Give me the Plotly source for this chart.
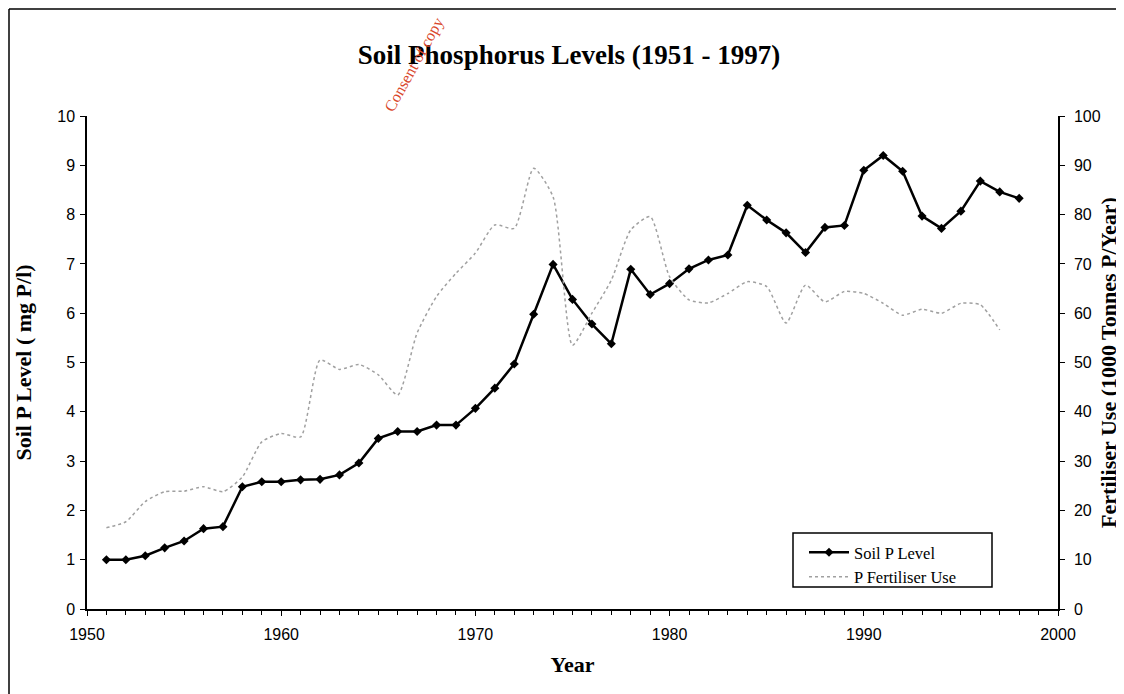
import plotly.graph_objects as go

years_soil = list(range(1951, 1999))
soil_p = [1.0, 1.0, 1.08, 1.24, 1.38, 1.63, 1.67, 2.48, 2.58, 2.58, 2.62, 2.63, 2.72, 2.96,
          3.46, 3.6, 3.6, 3.73, 3.73, 4.07, 4.48, 4.97, 5.98, 6.99, 6.28, 5.78, 5.38, 6.89,
          6.38, 6.6, 6.9, 7.08, 7.18, 8.19, 7.89, 7.63, 7.23, 7.74, 7.78, 8.9, 9.2, 8.88,
          7.97, 7.72, 8.07, 8.68, 8.46, 8.33]

years_fert = list(range(1951, 1998))
fert_use = [16.5, 17.7, 21.8, 23.8, 23.9, 24.8, 23.8, 26.8, 33.9, 35.6, 34.9, 50.5, 48.6, 49.6,
            47.5, 43.4, 56.0, 63.4, 68.1, 72.2, 77.9, 77.2, 89.4, 83.6, 53.5, 60.0, 66.7, 76.9,
            79.6, 67.4, 62.7, 62.1, 64.0, 66.4, 65.4, 58.0, 65.7, 62.3, 64.4, 64.0, 62.0, 59.6,
            60.8, 60.0, 62.0, 61.7, 56.6]

serif = "Liberation Serif"
sans = "Liberation Sans"

# figure is placed at (8, 8) by the page's body margin
W, H = 1116, 686
L, R, T, B = 79, 1050, 108, 601
PW, PH = R - L, B - T


def px(x):
    return (x - L) / PW


def py(y):
    return (B - y) / PH


fig = go.Figure()
fig.add_trace(go.Scatter(
    x=years_soil, y=soil_p, name="Soil P Level", mode="lines+markers",
    line=dict(color="black", width=2.5),
    marker=dict(symbol="diamond", size=7, color="black"),
    yaxis="y"))
fig.add_trace(go.Scatter(
    x=years_fert, y=fert_use, name="P Fertiliser Use", mode="lines",
    line=dict(color="#a0a0a0", width=1.5, dash="dot", shape="spline", smoothing=0.6),
    yaxis="y2"))

fig.update_layout(
    width=W, height=H,
    margin=dict(l=L, r=W - R, t=T, b=H - B, autoexpand=False),
    paper_bgcolor="white", plot_bgcolor="white",
    title=dict(text="<b>Soil Phosphorus Levels (1951 - 1997)</b>", x=561 / W, xanchor="center",
               xref="container", yref="container",
               y=1 - 47 / H, yanchor="middle", font=dict(family=serif, size=27, color="black")),
    xaxis=dict(range=[1950, 2000], dtick=10, tick0=1950, showgrid=False, zeroline=False,
               showline=True, linecolor="black", linewidth=1.5, automargin=False,
               ticks="outside", ticklen=5, tickcolor="black", ticklabelstandoff=5,
               minor=dict(dtick=1, ticks="outside", ticklen=4, tickcolor="black"),
               tickfont=dict(family=sans, size=16, color="black"),
               title=dict(text="<b>Year</b>", font=dict(family=serif, size=22, color="black"),
                          standoff=15)),
    yaxis=dict(range=[0, 10], dtick=1, showgrid=False, zeroline=False,
               showline=True, linecolor="black", linewidth=1.5, automargin=False,
               ticks="outside", ticklen=5, tickcolor="black", ticklabelstandoff=2,
               tickfont=dict(family=sans, size=16, color="black"),
               title=dict(text="<b>Soil P Level ( mg P/l)</b>",
                          font=dict(family=serif, size=22, color="black"), standoff=20)),
    yaxis2=dict(range=[0, 100], dtick=10, overlaying="y", side="right", showgrid=False,
                zeroline=False, showline=True, linecolor="black", linewidth=1.5,
                automargin=False, ticklabelstandoff=6,
                ticks="outside", ticklen=5, tickcolor="black",
                tickfont=dict(family=sans, size=16, color="black"),
                title=dict(text="<b>Fertiliser Use (1000 Tonnes P/Year)</b>",
                           font=dict(family=serif, size=22, color="black"), standoff=1)),
    legend=dict(x=px(796), y=py(527), xanchor="left", yanchor="top",
                borderwidth=0, bgcolor="rgba(0,0,0,0)",
                font=dict(family=serif, size=16.5, color="black"),
                itemwidth=40, tracegroupgap=0),
    showlegend=True,
)

# legend frame
fig.add_shape(type="rect", xref="paper", yref="paper",
              x0=px(785), x1=px(984), y0=py(579), y1=py(525),
              line=dict(color="black", width=1.5), fillcolor="rgba(0,0,0,0)")

# outer frame lines (top and left)
fig.add_shape(type="line", xref="paper", yref="paper",
              x0=px(1), x1=px(W), y0=py(1), y1=py(1),
              line=dict(color="black", width=1.5))
fig.add_shape(type="line", xref="paper", yref="paper",
              x0=px(1), x1=px(1), y0=py(1), y1=py(H),
              line=dict(color="black", width=1.5))

# watermark
fig.add_annotation(text="Consent of copy", xref="paper", yref="paper",
                   x=px(406), y=py(57), xanchor="center", yanchor="middle", showarrow=False,
                   textangle=-61, font=dict(family=serif, size=16, color="#d9472b"))

fig.write_html("out.html")
